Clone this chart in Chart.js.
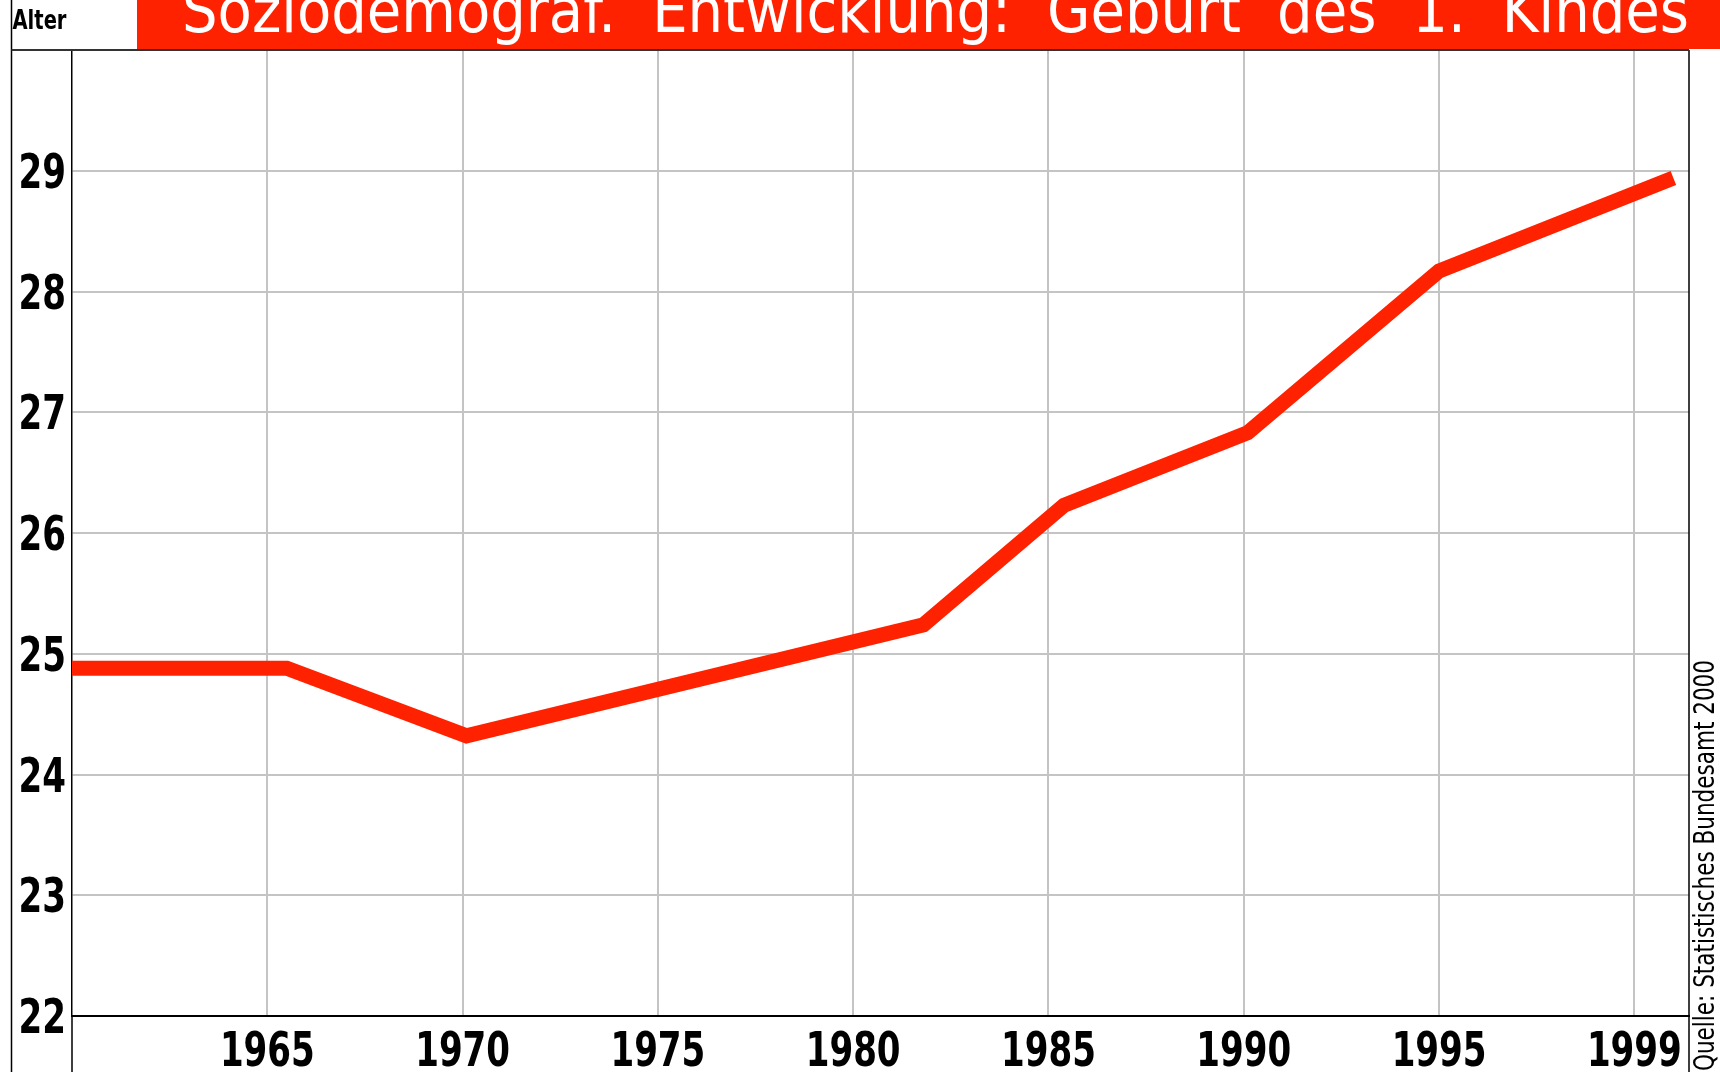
<!DOCTYPE html>
<html>
<head>
<meta charset="utf-8">
<title>Geburt des 1. Kindes</title>
<script src="https://cdn.jsdelivr.net/npm/chart.js@4.4.1/dist/chart.umd.min.js"></script>
<style>
  html, body { margin: 0; padding: 0; background: #fff; }
  canvas { display: block; }
</style>
</head>
<body>
<canvas id="chart" width="1720" height="1072"></canvas>
<script>
// Alter der Mutter bei Geburt des 1. Kindes
const yearPos = [1960, 1965.5, 1970.1, 1981.8, 1985.4, 1990.1, 1995.0, 2001.0];
const alter   = [24.88, 24.88, 24.32, 25.24, 26.23, 26.83, 28.17, 28.94];
// x ticks: last slot is labelled 1999
const xTickPos    = [1965, 1970, 1975, 1980, 1985, 1990, 1995, 2000];
const xTickLabels = ['1965', '1970', '1975', '1980', '1985', '1990', '1995', '1999'];
const yTicks = [22, 23, 24, 25, 26, 27, 28, 29];

const title  = 'Soziodemograf. Entwicklung: Geburt des 1. Kindes';
const yLabel = 'Alter';
const source = 'Quelle: Statistisches Bundesamt 2000';

const RED  = '#ff2200';
const GRID = '#c4c4c4';
const FONT = "'Liberation Sans Narrow', 'DejaVu Sans Condensed', 'Liberation Sans', sans-serif";

// draw text squeezed/stretched to a given width
function fitText(ctx, txt, x, y, w) {
  const m = ctx.measureText(txt).width;
  ctx.save();
  ctx.translate(x, y);
  ctx.scale(w / m, 1);
  ctx.fillText(txt, 0, 0);
  ctx.restore();
}

// header bar, frame lines, condensed tick labels, source note
const frame = {
  id: 'frame',
  beforeDraw(chart) {
    const ctx = chart.ctx;
    ctx.save();
    ctx.fillStyle = '#fff';
    ctx.fillRect(0, 0, chart.width, chart.height);
    ctx.restore();
  },
  afterDraw(chart) {
    const ctx = chart.ctx, a = chart.chartArea;
    ctx.save();

    // red title box
    ctx.fillStyle = RED;
    ctx.fillRect(137, 0, chart.width - 137, a.top - 1);

    // title, word by word with wide gaps
    ctx.fillStyle = '#fff';
    ctx.font = '63px ' + FONT;
    ctx.textBaseline = 'alphabetic';
    const words = title.split(' ');
    const widths = words.map(w => ctx.measureText(w).width);
    const gap = 36, x0 = 182;
    const f = (a.right - x0 - gap * (words.length - 1)) / widths.reduce((s, w) => s + w, 0);
    let x = x0;
    words.forEach((w, i) => {
      ctx.save();
      ctx.translate(x, 32);
      ctx.scale(f, 1);
      ctx.fillText(w, 0, 0);
      ctx.restore();
      x += widths[i] * f + gap;
    });

    // axis name
    ctx.fillStyle = '#000';
    ctx.font = 'bold 26px ' + FONT;
    fitText(ctx, yLabel, 12.5, 29, 54);

    // tick labels, placed by the chart's scales
    ctx.font = 'bold 48px ' + FONT;
    const digitW = 23.7;
    const sx = chart.scales.x, sy = chart.scales.y;
    sx.ticks.forEach((t, i) => {
      const lbl = xTickLabels[i];
      const w = lbl.length * digitW;
      fitText(ctx, lbl, sx.getPixelForValue(t.value) - w / 2, 1066, w);
    });
    sy.ticks.forEach(t => {
      const lbl = String(t.value);
      const w = lbl.length * digitW;
      fitText(ctx, lbl, a.left - 6 - w, sy.getPixelForValue(t.value) + 17, w);
    });

    // frame lines
    ctx.strokeStyle = '#000';
    ctx.lineWidth = 1.5;
    ctx.beginPath();
    ctx.moveTo(11.5, 0); ctx.lineTo(11.5, chart.height);
    ctx.moveTo(a.left, a.bottom); ctx.lineTo(a.left, chart.height);
    ctx.moveTo(a.right, a.top); ctx.lineTo(a.right, chart.height);
    ctx.stroke();

    ctx.strokeStyle = '#333';
    ctx.lineWidth = 2;
    ctx.beginPath();
    ctx.moveTo(11.5, a.top); ctx.lineTo(a.right, a.top);
    ctx.stroke();

    // source, vertical on the right
    ctx.fillStyle = '#000';
    ctx.font = '28px ' + FONT;
    ctx.save();
    ctx.translate(1714, 1071);
    ctx.rotate(-Math.PI / 2);
    fitText(ctx, source, 0, 0, 411);
    ctx.restore();

    ctx.restore();
  }
};

new Chart(document.getElementById('chart'), {
  type: 'line',
  data: {
    datasets: [{
      label: yLabel,
      data: yearPos.map((yr, i) => ({ x: yr, y: alter[i] })),
      borderColor: RED,
      borderWidth: 15,
      borderJoinStyle: 'miter',
      borderCapStyle: 'butt',
      tension: 0,
      pointRadius: 0,
      fill: false
    }]
  },
  options: {
    responsive: false,
    animation: false,
    layout: { padding: { left: 0, top: 50, right: 31, bottom: 0 } },
    plugins: { legend: { display: false }, tooltip: { enabled: false } },
    scales: {
      x: {
        type: 'linear',
        min: 1960,
        max: 2001.4,
        afterBuildTicks: s => { s.ticks = xTickPos.map(v => ({ value: v })); },
        afterFit: s => { s.height = 56; },
        ticks: { display: false, autoSkip: false },
        grid: { color: GRID, lineWidth: 2, drawTicks: false },
        border: { color: '#000', width: 2 }
      },
      y: {
        type: 'linear',
        min: 22,
        max: 30,
        afterBuildTicks: s => { s.ticks = yTicks.map(v => ({ value: v })); },
        afterFit: s => { s.width = 72; },
        ticks: { display: false },
        grid: {
          color: c => (c.tick && c.tick.value === 22) ? 'rgba(0,0,0,0)' : GRID,
          lineWidth: 2,
          drawTicks: false
        },
        border: { color: '#000', width: 1.5 }
      }
    }
  },
  plugins: [frame]
});
</script>
</body>
</html>
